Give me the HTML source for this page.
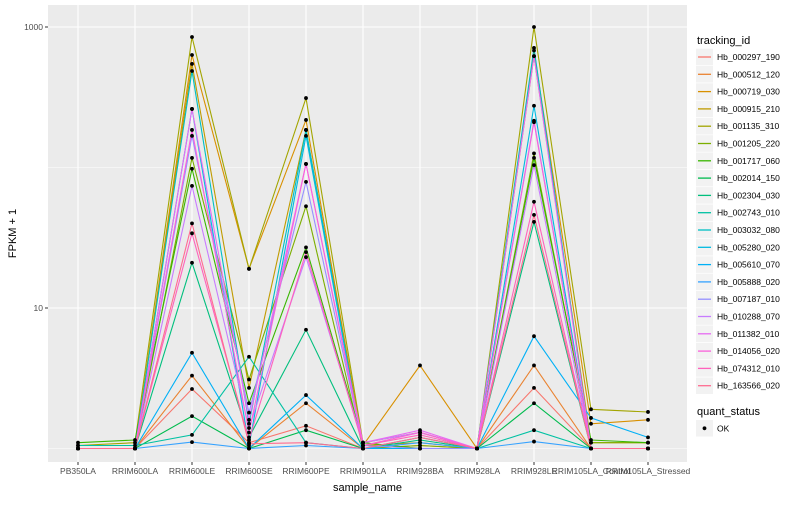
<!DOCTYPE html>
<html><head><meta charset="utf-8"><style>
body{margin:0;background:#fff;font-family:"Liberation Sans",sans-serif;}
svg text{font-family:"Liberation Sans",sans-serif;}
</style></head><body>
<svg id="chart" width="800" height="500" xmlns="http://www.w3.org/2000/svg"></svg>
<script>
const categories=["PB350LA","RRIM600LA","RRIM600LE","RRIM600SE","RRIM600PE","RRIM901LA","RRIM928BA","RRIM928LA","RRIM928LE","RRIM105LA_Control","RRIM105LA_Stressed"];
const seriesNames=["Hb_000297_190","Hb_000512_120","Hb_000719_030","Hb_000915_210","Hb_001135_310","Hb_001205_220","Hb_001717_060","Hb_002014_150","Hb_002304_030","Hb_002743_010","Hb_003032_080","Hb_005280_020","Hb_005610_070","Hb_005888_020","Hb_007187_010","Hb_010288_070","Hb_011382_010","Hb_014056_020","Hb_074312_010","Hb_163566_020"];
const seriesColors=["#F8766D","#EA8331","#D89000","#C09B00","#A3A500","#7CAE00","#39B600","#00BB4E","#00BF7D","#00C1A3","#00BFC4","#00BAE0","#00B0F6","#35A2FF","#9590FF","#C77CFF","#E76BF3","#FA62DB","#FF62BC","#FF6C91"];
const s01=[1,1,2.65,1.1,1.45,1,1,1,2.7,1,1];
const s02=[1,1,3.3,1,2.1,1,1.05,1,3.9,1,1];
const s03=[1,1,632,19,218,1.05,3.9,1,680,1.5,1.6];
const s04=[1,1,546,2.7,185,1.05,1.1,1,620,1.1,1.1];
const s05=[1.05,1.1,849,19,312,1.1,1.3,1,1000,1.9,1.82];
const s06=[1,1,117,3.1,53,1,1.05,1,126,1.1,1.1];
const s07=[1.1,1.15,98,2.1,27,1.1,1,1,117,1.15,1.1];
const s08=[1,1,1.7,1,1.35,1,1,1,2.1,1,1];
const s09=[1,1,21,1.2,7.0,1,1.15,1,41,1,1];
const s10=[1.05,1.05,1.25,4.5,1.1,1,1.2,1,1.35,1,1];
const s11=[1,1,486,1.5,185,1,1,1,710,1,1];
const s12=[1,1,261,1.05,168,1,1,1,275,1,1];
const s13=[1,1,4.8,1,2.4,1,1,1,6.3,1.65,1.2];
const s14=[1,1,1.11,1,1.05,1,1.1,1,1.12,1,1];
const s15=[1,1,168,1.8,79,1.05,1,1,215,1,1];
const s16=[1,1,74,1.4,23,1.1,1.3,1,104,1,1];
const s17=[1,1,261,1.6,106,1.1,1.35,1,620,1,1];
const s18=[1,1,185,1.3,106,1.05,1.3,1,210,1,1];
const s19=[1,1,34,1.15,25,1.05,1.25,1,57,1,1];
const s20=[1,1,40,1.08,1.1,1,1.2,1,46,1,1];
const seriesValues=[s01,s02,s03,s04,s05,s06,s07,s08,s09,s10,s11,s12,s13,s14,s15,s16,s17,s18,s19,s20];
const yTickValues=[10,1000];
const yTickLabels=["10","1000"];
const yMinorValues=[1,100];

const NS="http://www.w3.org/2000/svg";
const svg=document.getElementById("chart");
const P={l:48,r:687,t:5,b:462};
function xPos(i){return 78+i*57;}
function yPos(v){return 448.5-Math.log10(v)*140.5;}
function el(tag,attrs,parent){const e=document.createElementNS(NS,tag);for(const k in attrs)e.setAttribute(k,attrs[k]);(parent||svg).appendChild(e);return e;}

const panel=el("rect",{x:P.l,y:P.t,width:P.r-P.l,height:P.b-P.t,fill:"#EBEBEB"});


yMinorValues.forEach(v=>{const g=el("line",{x1:P.l,x2:P.r,y1:yPos(v),y2:yPos(v),stroke:"#fff","stroke-width":0.6});

});
yTickValues.forEach((v,i)=>{const g=el("line",{x1:P.l,x2:P.r,y1:yPos(v),y2:yPos(v),stroke:"#fff","stroke-width":1.1});


const t=el("line",{x1:P.l-3,x2:P.l,y1:yPos(v),y2:yPos(v),stroke:"#333","stroke-width":1});


const tx=el("text",{x:P.l-5,y:yPos(v)+3,"text-anchor":"end","font-size":"8.5",fill:"#4D4D4D"});tx.textContent=yTickLabels[i];

});
categories.forEach((c,i)=>{const g=el("line",{x1:xPos(i),x2:xPos(i),y1:P.t,y2:P.b,stroke:"#fff","stroke-width":1.1});


const t=el("line",{x1:xPos(i),x2:xPos(i),y1:P.b,y2:P.b+3,stroke:"#333","stroke-width":1});


const tx=el("text",{x:xPos(i),y:P.b+12,"text-anchor":"middle","font-size":"8.5",fill:"#4D4D4D"});tx.textContent=c;

});

seriesValues.forEach((vals,si)=>{
 const pts=vals.map((v,i)=>xPos(i).toFixed(1)+","+yPos(v).toFixed(1)).join(" ");
 const pl=el("polyline",{points:pts,fill:"none",stroke:seriesColors[si],"stroke-width":1.1});
 
 
});
seriesValues.forEach((vals,si)=>{
 vals.forEach((v,i)=>{const c=el("circle",{cx:xPos(i),cy:yPos(v),r:1.9,fill:"#000"});
 
 });
});

const xt=el("text",{x:(P.l+P.r)/2,y:491,"text-anchor":"middle","font-size":"11",fill:"#000"});xt.textContent="sample_name";


const yt=el("text",{x:0,y:0,"text-anchor":"middle","font-size":"11",fill:"#000",transform:"translate(16,"+((P.t+P.b)/2)+") rotate(-90)"});yt.textContent="FPKM + 1";



const lt=el("text",{x:697,y:44,"font-size":"11",fill:"#000"});lt.textContent="tracking_id";


seriesNames.forEach((n,i)=>{const cy=57+i*17.3;
 const g=el("g",{});
 
 
 el("rect",{x:696,y:cy-8.3,width:17,height:16.6,fill:"#F2F2F2"},g);
 el("line",{x1:698,x2:711,y1:cy,y2:cy,stroke:seriesColors[i],"stroke-width":1.3},g);
 const t=el("text",{x:717,y:cy+3,"font-size":"8.5",fill:"#000"},g);t.textContent=n;});
const qt=el("text",{x:697,y:415,"font-size":"11",fill:"#000"});qt.textContent="quant_status";


const qg=el("g",{});


el("rect",{x:696,y:420,width:17,height:16.6,fill:"#F2F2F2"},qg);
el("circle",{cx:704.5,cy:428.3,r:1.9,fill:"#000"},qg);
const ok=el("text",{x:717,y:431.5,"font-size":"8.5",fill:"#000"},qg);ok.textContent="OK";
</script>
</body></html>
